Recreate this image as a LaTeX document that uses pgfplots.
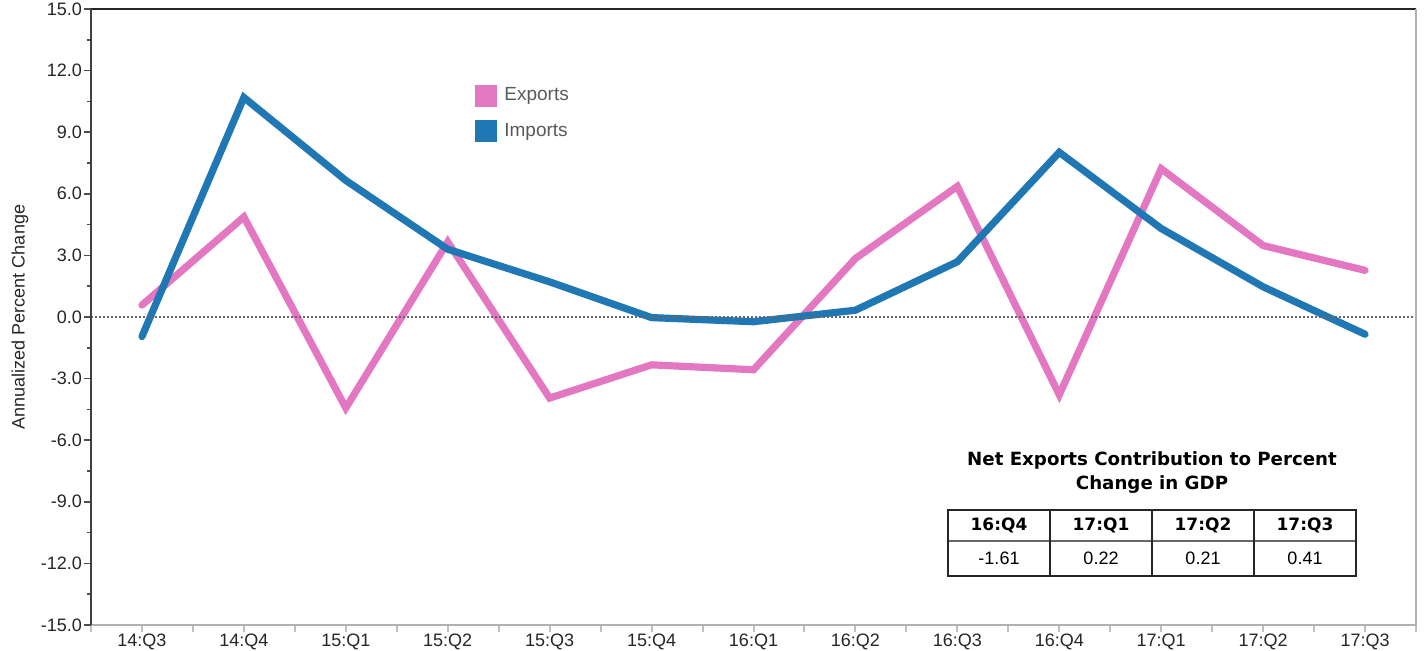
\documentclass[border=0pt]{standalone}
\usepackage{fontspec}
\setmainfont{Liberation Sans}
\newfontfamily\tabfont{DejaVu Sans}
\usepackage{pgfplots}
\pgfplotsset{compat=1.18}
\definecolor{expcol}{HTML}{E377C2}
\definecolor{impcol}{HTML}{1F77B4}

\begin{document}
\begin{tikzpicture}
\begin{axis}[
  scale only axis,
  width=662.5pt, height=308pt,
  xmin=-0.5, xmax=12.5, ymin=-15, ymax=15,
  axis line style={draw=none},
  xtick={-0.5,0.5,...,12.5},
  xticklabels={},
  extra x ticks={0,1,2,3,4,5,6,7,8,9,10,11,12},
  extra x tick labels={14:Q3,14:Q4,15:Q1,15:Q2,15:Q3,15:Q4,16:Q1,16:Q2,16:Q3,16:Q4,17:Q1,17:Q2,17:Q3},
  extra x tick style={major tick style={draw=none}},
  ytick={-15,-12,...,15},
  minor ytick={-13.5,-10.5,...,13.5},
  yticklabel={\pgfmathprintnumber[fixed,fixed zerofill,precision=1]{\tick}},
  /pgf/number format/assume math mode=true,
  tick align=outside,
  xtick pos=bottom, ytick pos=left,
  major x tick style={draw=black!25, line width=1pt},
  major y tick style={draw=black!70, line width=0.8pt},
  minor y tick style={draw=black!70, line width=0.8pt},
  major tick length=3.5pt, minor tick length=2pt,
  tick label style={font=\fontsize{9}{10}\selectfont, text=black!85},
  xticklabel style={yshift=2.5pt},
  yticklabel style={xshift=2.5pt},
  ylabel={Annualized Percent Change},
  ylabel style={at={(axis description cs:-0.0536,0.5)}, anchor=center,
    font=\fontsize{9}{11}\selectfont, text=black!85},
  legend style={at={(0.2898,0.879)}, anchor=north west, draw=none, fill=none,
    inner sep=0pt, row sep=5.5pt,
    font=\fontsize{9.5}{11}\selectfont, text=black!65,
    /tikz/every odd column/.append style={column sep=1.5pt}},
  legend cell align=left,
  legend image code/.code={\fill[#1, draw=none] (0pt,-5.5pt) rectangle (11pt,5.5pt);},
  clip=false,
]
\addplot[expcol, line width=3.6pt, line cap=round, line join=miter] coordinates {
  (0,0.58) (1,4.87) (2,-4.43) (3,3.66) (4,-3.95) (5,-2.33) (6,-2.57)
  (7,2.85) (8,6.36) (9,-3.79) (10,7.22) (11,3.48) (12,2.27)};
\addlegendentry{Exports}
\addplot[impcol, line width=3.6pt, line cap=round, line join=miter] coordinates {
  (0,-0.95) (1,10.69) (2,6.65) (3,3.3) (4,1.71) (5,-0.03) (6,-0.23)
  (7,0.33) (8,2.69) (9,8.02) (10,4.31) (11,1.47) (12,-0.84)};
\addlegendentry{Imports}
% zero reference line
\addplot[black!60, line width=0.9pt, dash pattern=on 1pt off 1pt, forget plot]
  coordinates {(-0.5,0) (12.5,0)};
% frame
\draw[black!85, line width=1.1pt] (rel axis cs:0,1) -- (rel axis cs:1,1);
\draw[black!30, line width=1.1pt] (rel axis cs:1,1) -- (rel axis cs:1,0) -- (rel axis cs:0,0);
\draw[black!75, line width=0.8pt] (rel axis cs:0,0) -- (rel axis cs:0,1);
\end{axis}

% net exports table
\node[font=\tabfont\bfseries\fontsize{9.1}{11}\selectfont] at (530.5pt,82.5pt) {Net Exports Contribution to Percent};
\node[font=\tabfont\bfseries\fontsize{9.1}{11}\selectfont] at (530.5pt,70pt) {Change in GDP};
\draw[black!60, line width=0.6pt] (428.5pt,42pt) -- (632.5pt,42pt);
\foreach \xx in {479.5,530.5,581.5} \draw[black!85, line width=0.9pt] (\xx pt,24.5pt) -- (\xx pt,57.5pt);
\draw[black!85, line width=1pt] (428.5pt,24.5pt) rectangle (632.5pt,57.5pt);
\foreach \xx/\hd/\vl in {454/16:Q4/-1.61, 505/17:Q1/0.22, 556/17:Q2/0.21, 607/17:Q3/0.41} {
  \node[font=\tabfont\bfseries\fontsize{8.5}{10}\selectfont] at (\xx pt,49.75pt) {\hd};
  \node[font=\fontsize{9}{11}\selectfont] at (\xx pt,33.25pt) {\vl};
}

\pgfresetboundingbox
\path[use as bounding box] (-45.5pt,-13pt) rectangle (666.5pt,312.5pt);
\end{tikzpicture}
\end{document}
